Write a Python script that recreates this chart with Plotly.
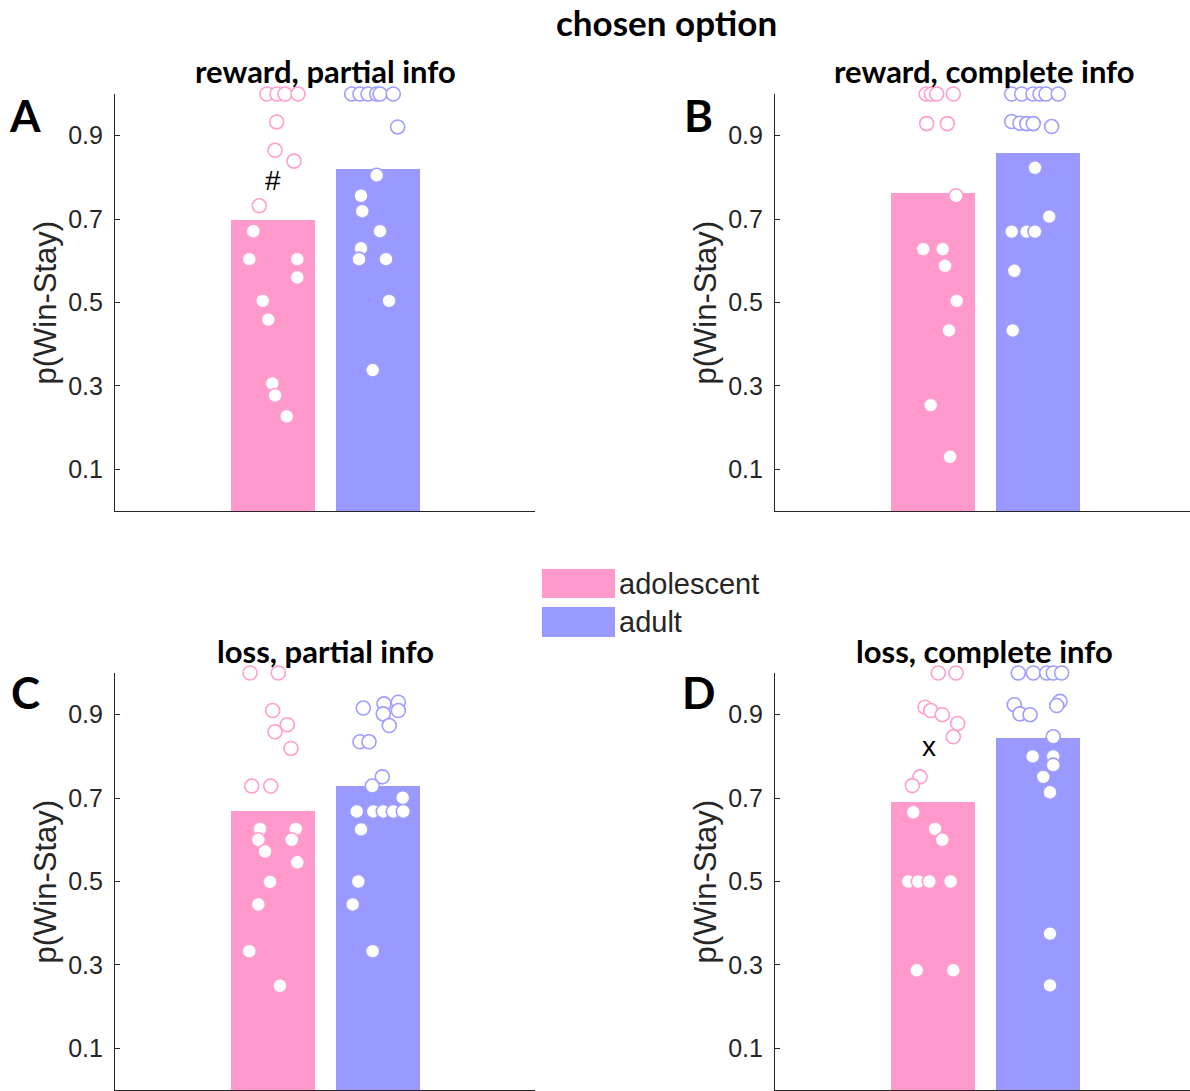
import plotly.graph_objects as go

# ---------------- data ----------------
groups = ["adolescent", "adult"]
panel_letters = ["A", "B", "C", "D"]
panel_titles = ["reward, partial info", "reward, complete info",
                "loss, partial info", "loss, complete info"]
main_title = "chosen option"
y_label = "p(Win-Stay)"
y_ticks = [0.1, 0.3, 0.5, 0.7, 0.9]

bar_adolescent = [0.698, 0.763, 0.668, 0.690]
bar_adult = [0.821, 0.859, 0.729, 0.845]

# individual subjects: value and horizontal jitter (offset from bar centre)
A_ado_y = [1.0, 1.0, 1.0, 1.0, 0.933, 0.865, 0.839, 0.732, 0.671, 0.604, 0.604, 0.560,
           0.504, 0.459, 0.306, 0.277, 0.227]
A_ado_j = [-0.052, 0.043, 0.119, 0.243, 0.040, 0.024, 0.205, -0.126, -0.183, -0.221, 0.236,
           0.236, -0.093, -0.040, -0.002, 0.024, 0.135]
A_adu_y = [1.0, 1.0, 1.0, 1.0, 1.0, 1.0, 0.921, 0.805, 0.756, 0.719, 0.671, 0.630, 0.604,
           0.604, 0.504, 0.338]
A_adu_j = [-0.246, -0.167, -0.090, -0.008, 0.024, 0.150, 0.192, -0.008, -0.157, -0.145,
           0.024, -0.157, -0.176, 0.081, 0.110, -0.046]

B_ado_y = [1.0, 1.0, 1.0, 1.0, 0.929, 0.929, 0.756, 0.628, 0.628, 0.588, 0.504, 0.433,
           0.254, 0.130]
B_ado_j = [-0.060, -0.010, 0.040, 0.198, -0.055, 0.141, 0.224, -0.088, 0.097, 0.119, 0.230,
           0.157, -0.017, 0.167]
B_adu_y = [1.0, 1.0, 1.0, 1.0, 1.0, 1.0, 0.934, 0.930, 0.929, 0.929, 0.922, 0.823, 0.706,
           0.670, 0.670, 0.670, 0.576, 0.433]
B_adu_j = [-0.246, -0.150, -0.043, 0.024, 0.081, 0.198, -0.246, -0.167, -0.103, -0.040,
           0.135, -0.024, 0.112, -0.246, -0.103, -0.024, -0.221, -0.236]

C_ado_y = [1.0, 1.0, 0.910, 0.876, 0.859, 0.819, 0.729, 0.729, 0.626, 0.626, 0.600, 0.600,
           0.572, 0.546, 0.499, 0.445, 0.333, 0.250]
C_ado_j = [-0.214, 0.055, 0.002, 0.141, 0.024, 0.176, -0.198, -0.017, -0.119, 0.221, -0.135,
           0.183, -0.071, 0.236, -0.024, -0.135, -0.221, 0.071]
C_adu_y = [0.916, 0.926, 0.930, 0.902, 0.910, 0.874, 0.835, 0.835, 0.751, 0.729, 0.701,
           0.668, 0.668, 0.668, 0.668, 0.668, 0.625, 0.500, 0.445, 0.333]
C_adu_j = [-0.135, 0.062, 0.198, 0.055, 0.198, 0.112, -0.167, -0.081, 0.046, -0.050, 0.240,
           -0.198, -0.040, 0.055, 0.150, 0.246, -0.157, -0.183, -0.236, -0.046]

D_ado_y = [1.0, 1.0, 0.918, 0.910, 0.900, 0.879, 0.847, 0.751, 0.730, 0.666, 0.626, 0.600,
           0.500, 0.500, 0.500, 0.500, 0.287, 0.287]
D_ado_j = [0.055, 0.224, -0.071, -0.017, 0.093, 0.240, 0.198, -0.119, -0.192, -0.183, 0.024,
           0.093, -0.230, -0.135, -0.030, 0.173, -0.150, 0.198]
D_adu_y = [1.0, 1.0, 1.0, 1.0, 1.0, 0.924, 0.902, 0.900, 0.932, 0.922, 0.847, 0.800, 0.800,
           0.779, 0.751, 0.714, 0.375, 0.251]
D_adu_j = [-0.183, -0.040, 0.088, 0.150, 0.230, -0.221, -0.167, -0.071, 0.214, 0.183, 0.150,
           -0.046, 0.150, 0.150, 0.055, 0.119, 0.119, 0.119]

points = [
    (A_ado_y, A_ado_j, A_adu_y, A_adu_j),
    (B_ado_y, B_ado_j, B_adu_y, B_adu_j),
    (C_ado_y, C_ado_j, C_adu_y, C_adu_j),
    (D_ado_y, D_ado_j, D_adu_y, D_adu_j),
]

# significance marks: (panel index, group index, y, text)
marks = [(0, 0, 0.793, "#"), (3, 0, 0.824, "x")]

# ---------------- style ----------------
W, H = 1190, 1091
PINK = "#FF99CC"
BLUE = "#9999FF"
RING = ["#FF9ECF", "#9E9EFF"]
AX = "#262626"
colors = [PINK, BLUE]

def px_x(p):
    return p / W

def px_y(p):
    return 1 - p / H

x_doms = [[px_x(115), px_x(535)], [px_x(775), 1.0]]
y_doms = [[px_y(511), px_y(94)], [px_y(1090), px_y(673)]]
x_ranges = [[-0.5, 3.5], [-0.5, -0.5 + 415 / 105]]

fig = go.Figure()
layout = dict(width=W, height=H, margin=dict(l=0, r=0, t=0, b=0),
              plot_bgcolor="white", paper_bgcolor="white", showlegend=False,
              bargap=0)
annotations = []
shapes = []

for i in range(4):
    col, row = i % 2, i // 2
    n = "" if i == 0 else str(i + 1)
    xa, ya = "x" + n, "y" + n
    layout["xaxis" + n] = dict(domain=x_doms[col], range=x_ranges[col], anchor=ya,
                               showline=True, linecolor=AX, linewidth=1.2, ticks="",
                               showticklabels=False, showgrid=False, zeroline=False,
                               fixedrange=True)
    layout["yaxis" + n] = dict(domain=y_doms[row], range=[0, 1], anchor=xa,
                               showline=True, linecolor=AX, linewidth=1.2,
                               ticks="inside", ticklen=5, tickcolor=AX, tickwidth=1,
                               tickvals=y_ticks, ticktext=[f"{v:.1f}" for v in y_ticks],
                               tickfont=dict(family="Liberation Sans", size=25, color=AX),
                               ticklabelstandoff=6,
                               showgrid=False, zeroline=False, fixedrange=True)
    fig.add_trace(go.Bar(x=[1, 2], y=[bar_adolescent[i], bar_adult[i]], width=0.8,
                         marker=dict(color=colors, line=dict(width=0)),
                         xaxis=xa, yaxis=ya, hoverinfo="skip"))
    ado_y, ado_j, adu_y, adu_j = points[i]
    for g, (yy, jj) in enumerate([(ado_y, ado_j), (adu_y, adu_j)]):
        fig.add_trace(go.Scatter(x=[g + 1 + j for j in jj], y=yy, mode="markers",
                                 marker=dict(size=14, color="white",
                                             line=dict(color=RING[g], width=1.6)),
                                 cliponaxis=False, xaxis=xa, yaxis=ya))
    # panel title
    xc = (px_x(115) + px_x(535)) / 2 if col == 0 else (px_x(775) + px_x(1195)) / 2
    annotations.append(dict(text="<b>%s</b>" % panel_titles[i], xref="paper", yref="paper",
                            x=xc, y=px_y(71 + 580 * row), xanchor="center", yanchor="middle",
                            showarrow=False,
                            font=dict(family="Lato", size=31, color="black")))
    # panel letter
    annotations.append(dict(text="<b>%s</b>" % panel_letters[i], xref="paper", yref="paper",
                            x=px_x(25 + 673 * col), y=px_y(115 + 577 * row),
                            xanchor="center", yanchor="middle", showarrow=False,
                            font=dict(family="Lato", size=44, color="black")))
    # y label
    annotations.append(dict(text=y_label, xref="paper", yref="paper",
                            x=px_x(45 + 660 * col),
                            y=(y_doms[row][0] + y_doms[row][1]) / 2,
                            textangle=-90, xanchor="center", yanchor="middle",
                            showarrow=False,
                            font=dict(family="Liberation Sans", size=31, color=AX)))

for (pi, gi, yv, txt) in marks:
    n = "" if pi == 0 else str(pi + 1)
    annotations.append(dict(text=txt, xref="x" + n, yref="y" + n, x=gi + 1 - 0.03 * (pi == 3),
                            y=yv, showarrow=False, xanchor="center", yanchor="middle",
                            font=dict(family="Liberation Sans", size=28, color="black")))

annotations.append(dict(text="<b>%s</b>" % main_title, xref="paper", yref="paper",
                        x=px_x(666), y=px_y(22), xanchor="center", yanchor="middle",
                        showarrow=False, font=dict(family="Lato", size=35, color="black")))

# legend
leg_rows = [(569, 598), (607, 637)]
for g, (t, b) in enumerate(leg_rows):
    shapes.append(dict(type="rect", xref="paper", yref="paper",
                       x0=px_x(542), x1=px_x(615), y0=px_y(b), y1=px_y(t),
                       fillcolor=colors[g], line=dict(width=0)))
    annotations.append(dict(text=groups[g], xref="paper", yref="paper",
                            x=px_x(617), y=px_y((t + b) / 2), xanchor="left",
                            yanchor="middle", showarrow=False,
                            font=dict(family="Liberation Sans", size=29, color=AX)))

layout["annotations"] = annotations
layout["shapes"] = shapes
fig.update_layout(**layout)
fig.write_html("out.html", config={"displayModeBar": False},
               post_script="document.body.style.margin='0px';")
